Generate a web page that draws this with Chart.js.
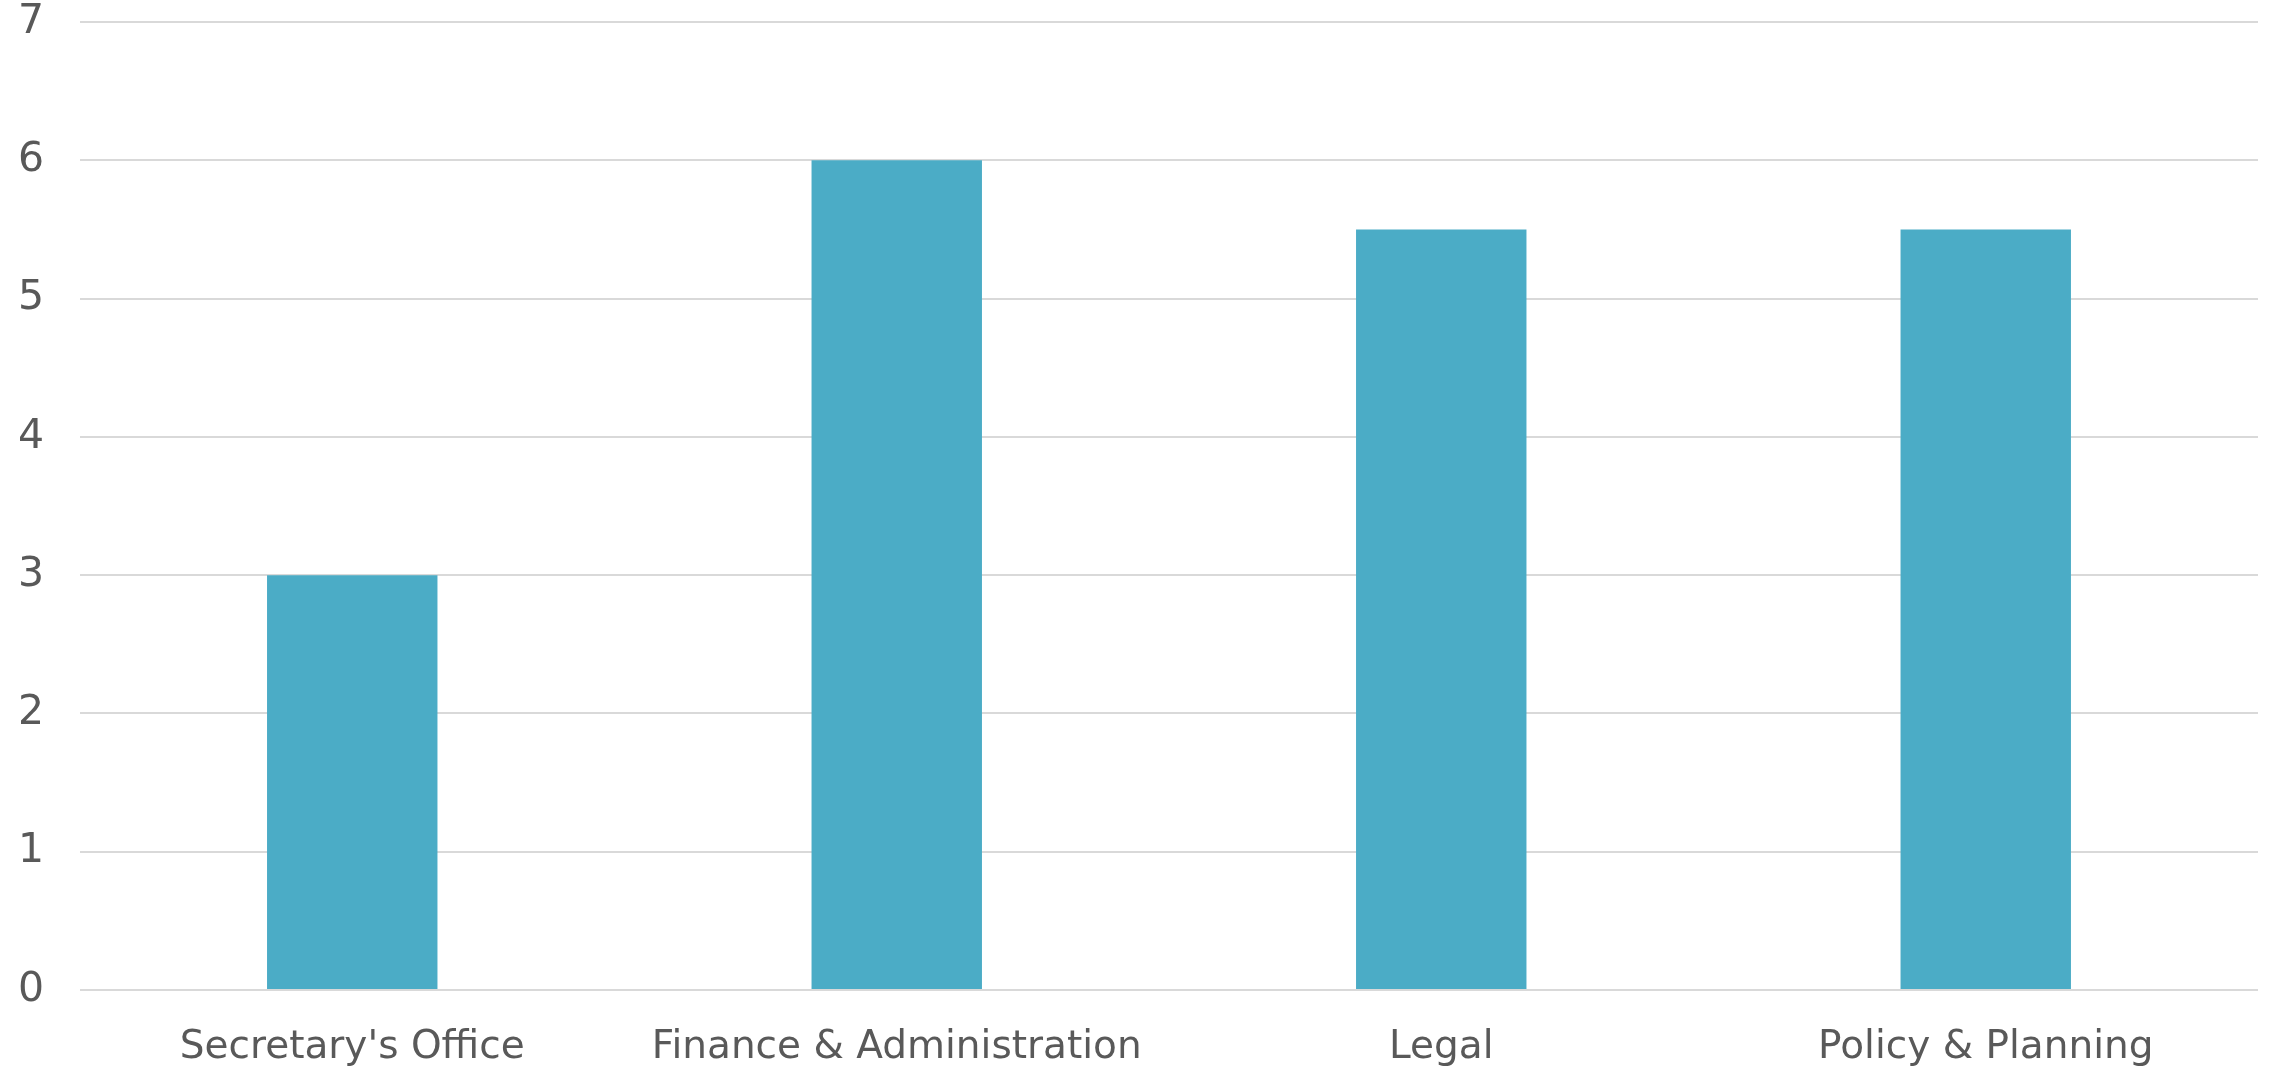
<!DOCTYPE html>
<html>
<head>
<meta charset="utf-8">
<script src="https://cdn.jsdelivr.net/npm/chart.js@4"></script>
<style>
  html, body { margin: 0; padding: 0; background: #fff; }
  #wrap { width: 2272px; height: 1076px; }
</style>
</head>
<body>
<div id="wrap"><canvas id="barChart"></canvas></div>
<script>
const categories = ["Secretary's Office", 'Finance & Administration', 'Legal', 'Policy & Planning'];
const values = [3, 6, 5.5, 5.5];
const yTicks = [0, 1, 2, 3, 4, 5, 6, 7];

const textColor = '#595959';
const gridColor = '#d9d9d9';
const fontFamily = '"DejaVu Sans", sans-serif';

new Chart(document.getElementById('barChart'), {
    type: 'bar',
    data: {
        labels: categories,
        datasets: [{
            data: values,
            backgroundColor: '#4bacc6',
            borderWidth: 0,
            barPercentage: 0.313,
            categoryPercentage: 1
        }]
    },
    options: {
        responsive: true,
        maintainAspectRatio: false,
        animation: false,
        layout: { padding: { top: 22, right: 14, left: 18, bottom: 0 } },
        plugins: {
            legend: { display: false },
            tooltip: { enabled: false }
        },
        scales: {
            x: {
                grid: { display: false, drawTicks: false },
                border: { display: false },
                ticks: {
                    color: textColor,
                    font: { family: fontFamily, size: 39, lineHeight: 1 },
                    padding: 38,
                    maxRotation: 0,
                    autoSkip: false
                },
                afterFit: (scale) => { scale.height = 86; }
            },
            y: {
                min: 0,
                max: 7,
                afterBuildTicks: (scale) => { scale.ticks = yTicks.map(v => ({ value: v })); },
                grid: { color: gridColor, lineWidth: 2, drawTicks: false },
                border: { display: false },
                ticks: {
                    color: textColor,
                    font: { family: fontFamily, size: 41, lineHeight: 1 },
                    padding: 0,
                    crossAlign: 'far'
                },
                afterFit: (scale) => { scale.width = 62; }
            }
        }
    }
});
</script>
</body>
</html>
